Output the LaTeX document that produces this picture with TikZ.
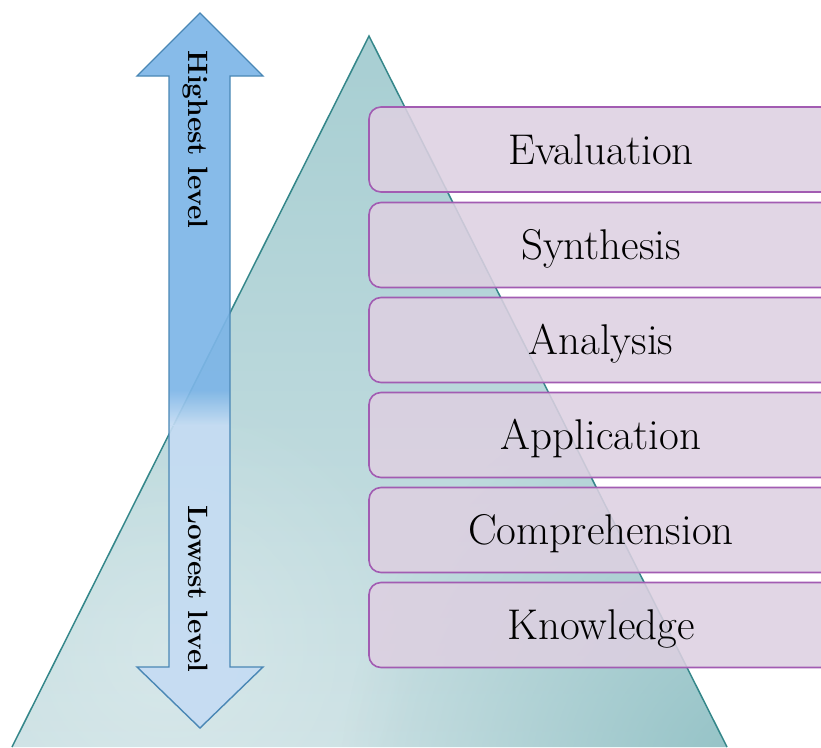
\documentclass[tikz,border=0pt]{standalone}
\usetikzlibrary{fadings}
\definecolor{arrowdark}{HTML}{7DB5E7}
\definecolor{arrowlight}{HTML}{C5DCF3}
\definecolor{arrowborder}{HTML}{4A87B5}
\definecolor{tritop}{HTML}{A7CED2}
\definecolor{tribot}{HTML}{CCE1E4}
\definecolor{tridark}{HTML}{8EBFC3}
\definecolor{triborder}{HTML}{35878A}
\definecolor{boxfill}{HTML}{DDD0E1}
\definecolor{boxborder}{HTML}{A25CB2}
\tikzfading[name=radfade, inner color=transparent!0, outer color=transparent!100]
\tikzset{
  lvl/.style={draw=boxborder, line width=1.6pt, fill=boxfill, fill opacity=0.88, text opacity=1,
    rounded corners=12pt, minimum width=464pt, minimum height=85pt, inner sep=0pt,
    text height=29pt, text depth=0pt, font=\fontsize{43}{50}\selectfont},
  arrowlabel/.style={rotate=-90, anchor=base, inner sep=0pt, font=\fontsize{28}{33}\selectfont\bfseries}
}
\begin{document}
\begin{tikzpicture}[x=1pt,y=-1pt]
\useasboundingbox (0,0) rectangle (821,747);
% triangle
\coordinate (apex) at (369,36);
\coordinate (bl) at (12,747);
\coordinate (br) at (727,747);
\begin{scope}
  \clip (apex) -- (bl) -- (br) -- cycle;
  \shade[top color=tritop, bottom color=tribot] (0,30) rectangle (821,750);
  \fill[tridark, path fading=radfade] (770,790) circle (430);
  \fill[white, opacity=0.25, path fading=radfade] (170,650) circle (260);
\end{scope}
\draw[triborder, line width=1.5pt] (bl) -- (apex) -- (br);
% level boxes
\node[lvl] (evaluation) at (601,149.5) {Evaluation};
\node[lvl] (synthesis) at (601,245) {Synthesis};
\node[lvl] (analysis) at (601,340) {Analysis};
\node[lvl] (application) at (601,435) {Application};
\node[lvl] (comprehension) at (601,530) {Comprehension};
\node[lvl] (knowledge) at (601,625) {Knowledge};
% double arrow
\coordinate (t) at (200,13);
\coordinate (thr) at (263,76);
\coordinate (tsr) at (230,76);
\coordinate (bsr) at (230,667);
\coordinate (bhr) at (263,667);
\coordinate (b) at (200,728);
\coordinate (bhl) at (137,667);
\coordinate (bsl) at (169,667);
\coordinate (tsl) at (169,76);
\coordinate (thl) at (137,76);
\begin{scope}
  \clip (t) -- (thr) -- (tsr) -- (bsr) -- (bhr) -- (b) -- (bhl) -- (bsl) -- (tsl) -- (thl) -- cycle;
  \fill[arrowdark, fill opacity=0.92] (130,0) rectangle (270,390);
  \shade[top color=arrowdark, bottom color=arrowlight, fill opacity=0.92] (130,390) rectangle (270,425);
  \fill[arrowlight, fill opacity=0.92] (130,425) rectangle (270,747);
\end{scope}
\draw[arrowborder, line width=1.4pt, line join=miter] (t) -- (thr) -- (tsr) -- (bsr) -- (bhr) -- (b) -- (bhl) -- (bsl) -- (tsl) -- (thl) -- cycle;
\node[arrowlabel] (high) at (188,139.5) {Highest level};
\node[arrowlabel] (low) at (188,589) {Lowest level};
\end{tikzpicture}
\end{document}
